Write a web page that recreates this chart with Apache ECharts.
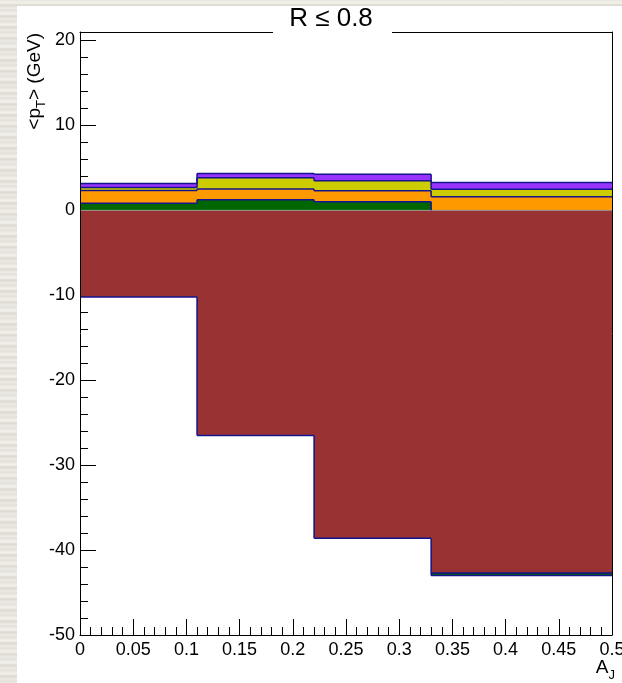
<!DOCTYPE html>
<html><head><meta charset="utf-8">
<script src="https://cdn.jsdelivr.net/npm/echarts@6/dist/echarts.min.js"></script>
<style>
html,body{margin:0;padding:0;width:622px;height:683px;overflow:hidden;}
body{background:repeating-linear-gradient(180deg,#e9e6df 0px,#f3f1ec 3px,#dcd8cf 5px,#eceae4 8px,#e2dfd8 11px);}
#pad{position:absolute;left:17px;top:6px;width:605px;height:677px;background:#fff;}
#chart{position:absolute;left:0;top:0;width:622px;height:683px;}
</style></head><body>
<div id="pad"></div><div id="chart"></div>
<script>
// ---- data ----
const binEdges = [0, 0.11, 0.22, 0.33, 0.5];
const brownValues  = [-10.2, -26.5, -38.6, -42.7];
const greenValues  = [0.85, 1.25, 1.0, -0.3];
const orangeValues = [1.5, 1.25, 1.3, 1.6];
const yellowValues = [0.35, 1.35, 1.2, 0.88];
const purpleValues = [0.45, 0.5, 0.75, 0.8];
const layerValues = [brownValues, greenValues, orangeValues, yellowValues, purpleValues];
const layerNames = ['brown', 'green', 'orange', 'yellow', 'purple'];
const xTickValues = [0, 0.05, 0.1, 0.15, 0.2, 0.25, 0.3, 0.35, 0.4, 0.45, 0.5];
const xTickLabels = ['0', '0.05', '0.1', '0.15', '0.2', '0.25', '0.3', '0.35', '0.4', '0.45', '0.5'];
const yTickValues = [-50, -40, -30, -20, -10, 0, 10, 20];
const yTickLabels = ['-50', '-40', '-30', '-20', '-10', '0', '10', '20'];
const titleText = 'R \u2264 0.8';

// ---- styles ----
const layerColors = ['#993333', '#006600', '#ff9900', '#cccc00', '#9933ff'];
const LINE = '#14148f';
const FONT = '"Liberation Sans", Arial, Helvetica, sans-serif';

// same-sign stacking
const posAcc = binEdges.slice(1).map(() => 0);
const negAcc = binEdges.slice(1).map(() => 0);
const stacked = layerValues.map(vals => vals.map((v, i) => {
  const base = v >= 0 ? posAcc[i] : negAcc[i];
  const top = base + v;
  if (v >= 0) posAcc[i] = top; else negAcc[i] = top;
  return [binEdges[i], binEdges[i + 1], base, top];
}));
const seriesData = stacked.map(rows => rows.map((r, i) => {
  const p = i > 0 ? rows[i - 1] : r;
  return [r[0], r[1], r[2], r[3], p[3], p[2]];
}));

function renderItem(params, api) {
  const x0 = api.value(0), x1 = api.value(1), base = api.value(2), top = api.value(3);
  const pTop = api.value(4), pBase = api.value(5);
  const color = api.visual('color');
  const a = api.coord([x0, base]), b = api.coord([x1, top]);
  const ax = Math.round(a[0]), bx = Math.round(b[0]);
  const ay = Math.round(a[1]), by = Math.round(b[1]);
  const children = [{
    type: 'rect', z2: 0,
    shape: { x: ax, y: Math.min(ay, by), width: bx - ax, height: Math.abs(by - ay) },
    style: { fill: color }
  }, {
    type: 'line', z2: 10,
    shape: { x1: a[0], y1: b[1], x2: b[0], y2: b[1] },
    style: { stroke: LINE, lineWidth: 1.5 }
  }];
  if (params.dataIndex > 0) {
    const pt = api.coord([x0, pTop]), pb = api.coord([x0, pBase]);
    const sameSide = (pTop - pBase) * (top - base) >= 0;
    if (sameSide) {
      children.push({ type: 'line', z2: 10, shape: { x1: a[0], y1: pt[1], x2: a[0], y2: b[1] }, style: { stroke: LINE, lineWidth: 1.5 } });
    } else {
      children.push({ type: 'line', z2: 10, shape: { x1: a[0], y1: pt[1], x2: a[0], y2: pb[1] }, style: { stroke: LINE, lineWidth: 1.5 } });
      children.push({ type: 'line', z2: 10, shape: { x1: a[0], y1: a[1], x2: a[0], y2: b[1] }, style: { stroke: LINE, lineWidth: 1.5 } });
    }
  }
  return { type: 'group', children };
}

const series = layerNames.map((name, k) => ({
  type: 'custom', name, renderItem,
  itemStyle: { color: layerColors[k] },
  data: seriesData[k], silent: true, clip: false
}));
series.push({
  type: 'custom', name: 'zero', silent: true,
  data: [[binEdges[0], binEdges[binEdges.length - 1], 0]],
  renderItem: (params, api) => {
    const a = api.coord([api.value(0), api.value(2)]), b = api.coord([api.value(1), api.value(2)]);
    return { type: 'line', z2: 5, shape: { x1: a[0], y1: a[1], x2: b[0], y2: b[1] }, style: { stroke: '#9a9a9a', lineWidth: 1 } };
  }
});

function fmt(values, labels) {
  return v => { const i = values.findIndex(t => Math.abs(t - v) < 1e-9); return i >= 0 ? labels[i] : ''; };
}
const lineOnly = (pos, extra) => Object.assign({
  type: 'value', position: pos, z: 20,
  axisLine: { show: true, onZero: false, lineStyle: { color: '#000', width: 1 } },
  axisTick: { show: false }, axisLabel: { show: false }, splitLine: { show: false }
}, extra);

const chart = echarts.init(document.getElementById('chart'), null, { renderer: 'canvas' });
chart.setOption({
  animation: false,
  backgroundColor: 'transparent',
  grid: { left: 80, right: 10, top: 32, bottom: 48, containLabel: false, outerBoundsMode: 'none', show: true, backgroundColor: '#fff', borderWidth: 0 },
  xAxis: [
    {
      type: 'value', min: 0, max: 0.5, interval: 0.05, position: 'bottom',
      axisLine: { show: false, onZero: false },
      axisTick: { show: true, inside: true, length: 16, lineStyle: { color: '#000', width: 1 } },
      minorTick: { show: true, splitNumber: 5, length: 8, lineStyle: { color: '#000', width: 1 } },
      axisLabel: { show: true, margin: 6, color: '#000', fontSize: 18, fontFamily: FONT, formatter: fmt(xTickValues, xTickLabels), showMinLabel: true, showMaxLabel: true, hideOverlap: false },
      splitLine: { show: false }, minorSplitLine: { show: false }
    },
    lineOnly('bottom', { min: 0, max: 0.5 }),
    lineOnly('top', { min: 0, max: 0.5 })
  ],
  yAxis: [
    {
      type: 'value', min: -50, max: 21, interval: 10, position: 'left',
      axisLine: { show: false, onZero: false },
      axisTick: { show: true, inside: true, length: 16, lineStyle: { color: '#000', width: 1 } },
      axisLabel: { show: true, margin: 5, color: '#000', fontSize: 18, fontFamily: FONT, formatter: fmt(yTickValues, yTickLabels), showMinLabel: true, hideOverlap: false },
      splitLine: { show: false }
    },
    {
      type: 'value', min: -50, max: 21, interval: 2, position: 'left',
      axisLine: { show: false, onZero: false },
      axisTick: { show: true, inside: true, length: 8, lineStyle: { color: '#000', width: 1 } },
      axisLabel: { show: false }, splitLine: { show: false }
    },
    lineOnly('left', { min: -50, max: 21 }),
    lineOnly('right', { min: -50, max: 21 })
  ],
  series,
  graphic: [
    { type: 'rect', z: 100, shape: { x: 273, y: 8, width: 119, height: 30 }, style: { fill: '#fff' } },
    { type: 'text', z: 101, x: 331, y: 19, style: { text: titleText, fontSize: 26, fontFamily: FONT, fill: '#000', align: 'center', verticalAlign: 'middle' } },
    { type: 'text', z: 101, x: 35, y: 33, rotation: Math.PI / 2,
      style: { text: '{a|<p}{s|T}{a|> (GeV)}', fill: '#000', align: 'right', verticalAlign: 'middle',
        rich: { a: { fontSize: 19, fontFamily: FONT, fill: '#000' }, s: { fontSize: 13, fontFamily: FONT, fill: '#000', padding: [12, 0, 0, 0] } } } },
    { type: 'text', z: 101, x: 615, y: 668,
      style: { text: '{a|A}{s|J}', fill: '#000', align: 'right', verticalAlign: 'middle',
        rich: { a: { fontSize: 19, fontFamily: FONT, fill: '#000' }, s: { fontSize: 13, fontFamily: FONT, fill: '#000', padding: [14, 0, 0, 0] } } } }
  ]
});
</script>
</body></html>
